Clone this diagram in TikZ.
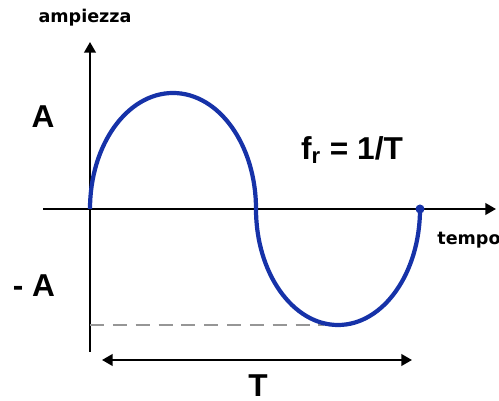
\documentclass[tikz,border=0pt]{standalone}
\usepackage{fontspec}
\setmainfont{Liberation Sans}
\newfontfamily\widesans{DejaVu Sans}
\definecolor{waveblue}{RGB}{22, 50, 168}
\definecolor{dashgray}{RGB}{150, 150, 150}
\usetikzlibrary{arrows.meta, positioning}

\begin{document}
\begin{tikzpicture}[
        x=0.02cm, y=0.02cm,
        axis/.style={line width=1.3pt, -{Triangle[length=6pt, width=6.5pt]}},
        wave/.style={line width=2.4pt, waveblue},
        biglabel/.style={font=\fontsize{18}{20}\selectfont\bfseries, inner sep=0pt},
        smalllabel/.style={font=\widesans\fontsize{10}{12}\selectfont\bfseries, inner sep=0pt}
    ]
        \useasboundingbox (0,0) rectangle (499,401);

        % Axes
        \coordinate (o) at (90,192);
        \coordinate (ybot) at (90,49);
        \coordinate (ytop) at (90,359);
        \coordinate (xleft) at (43,192);
        \coordinate (xright) at (496,192);
        \draw[axis] (ybot) -- (ytop);
        \draw[axis] (xleft) -- (xright);
        \node[smalllabel] (ampl) at (85,383) {ampiezza};
        \node[smalllabel, anchor=west] (tempo) at (437,161) {tempo};

        % One period of the wave
        \coordinate (low) at (324,76);
        \coordinate (lowaxis) at (90,76);
        \draw[dashgray, line width=1.3pt, dash pattern=on 8pt off 5pt] (lowaxis) -- (low);
        \draw[wave] (o) arc[start angle=180, end angle=0, x radius=83, y radius=116]
            coordinate (mid)
            arc[start angle=180, end angle=360, x radius=82, y radius=116]
            coordinate (end);
        \fill[waveblue] (end) circle (4.5);

        % Amplitude and frequency labels
        \node[biglabel] (plusA) at (43,284) {A};
        \node[biglabel] (minusA) at (34,115) {- A};
        \node[biglabel] (freq) at (352,251) {f\textsubscript{r} = 1/T};

        % Period
        \coordinate (pleft) at (102,41);
        \coordinate (pright) at (412,41);
        \draw[line width=1.3pt, {Triangle[length=6pt, width=6.5pt]}-{Triangle[length=6pt, width=6.5pt]}] (pleft) -- (pright);
        \node[biglabel] (period) at (258,15) {T};
    \end{tikzpicture}
\end{document}
